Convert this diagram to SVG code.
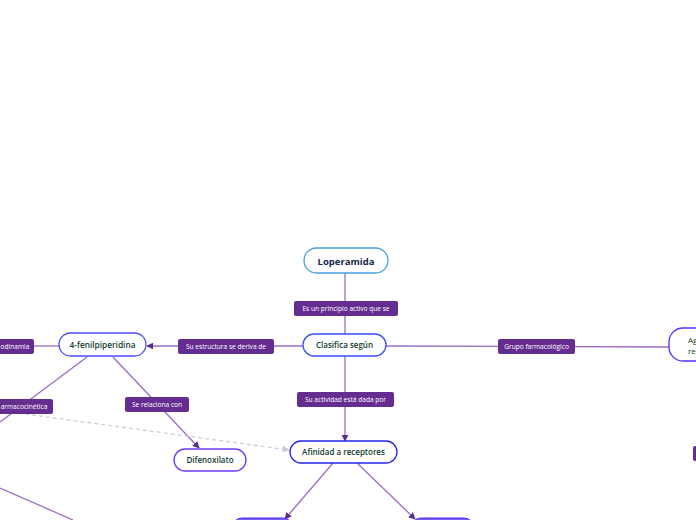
<svg xmlns="http://www.w3.org/2000/svg" width="696" height="520" viewBox="0 0 696 520">
<style>
.node{fill:#fff;stroke-width:1.3}
.nt{font-family:"Open Sans","Noto Sans",sans-serif;font-size:8.5px;fill:#0f3b2c;text-anchor:middle}
.lb{fill:#662d91}
.lt{font-family:"Open Sans","Noto Sans",sans-serif;font-size:6.6px;fill:#fff;text-anchor:middle}
.c{stroke:#9b6cc4;stroke-width:1.3;fill:none}
</style>
<defs>
<marker id="ah" viewBox="0 0 10 10" refX="9" refY="5" markerWidth="7" markerHeight="7" orient="auto" markerUnits="userSpaceOnUse"><path d="M0,0 L10,5 L0,10 z" fill="#5a2a8c"/></marker>
<marker id="ag" viewBox="0 0 10 10" refX="9" refY="5" markerWidth="7" markerHeight="7" orient="auto" markerUnits="userSpaceOnUse"><path d="M0,0 L10,5 L0,10 z" fill="#c5ccd6"/></marker>
</defs>
<g id="connectors">
<line class="c" x1="345" y1="273" x2="345" y2="334"/>
<line class="c" x1="345" y1="356" x2="345" y2="441" marker-end="url(#ah)"/>
<line class="c" x1="303" y1="346" x2="147" y2="346" marker-end="url(#ah)"/>
<line class="c" x1="386" y1="346" x2="669" y2="347"/>
<line class="c" x1="59" y1="346" x2="30" y2="346"/>
<line class="c" x1="87" y1="357" x2="0" y2="422"/>
<line class="c" x1="113" y1="357" x2="199" y2="448" marker-end="url(#ah)"/>
<line class="c" x1="333" y1="463" x2="285" y2="519" marker-end="url(#ah)"/>
<line class="c" x1="357" y1="463" x2="415" y2="519" marker-end="url(#ah)"/>
<line class="c" x1="0" y1="488" x2="73" y2="520"/>
<line x1="18" y1="413" x2="289" y2="450" stroke="#c9d0d9" stroke-width="1.3" stroke-dasharray="4,3" fill="none" marker-end="url(#ag)"/>
</g>
<g id="lbl-principio"><rect class="lb" x="294" y="301" width="104" height="15" rx="2"/><text class="lt" x="346" y="311">Es un principio activo que se</text></g>
<g id="lbl-estructura"><rect class="lb" x="178" y="339" width="96" height="15" rx="2"/><text class="lt" x="226" y="349">Su estructura se deriva de</text></g>
<g id="lbl-grupo"><rect class="lb" x="498" y="339" width="77" height="15" rx="2"/><text class="lt" x="536.5" y="349">Grupo farmacológico</text></g>
<g id="lbl-actividad"><rect class="lb" x="297" y="392" width="97" height="15" rx="2"/><text class="lt" x="345.5" y="402">Su actividad está dada por</text></g>
<g id="lbl-relaciona"><rect class="lb" x="125" y="397" width="64" height="15" rx="2"/><text class="lt" x="157" y="407">Se relaciona con</text></g>
<g id="lbl-farmacodinamia"><rect class="lb" x="-6" y="339" width="40" height="15" rx="2"/><text class="lt" x="15" y="349">odinamia</text></g>
<g id="lbl-farmacocinetica"><rect class="lb" x="-6" y="399" width="59" height="15" rx="2"/><text class="lt" x="24" y="409">armacocinética</text></g>
<g id="lbl-right"><rect class="lb" x="693" y="446" width="10" height="15" rx="2"/></g>
<g id="n-loperamida"><rect class="node" x="304" y="248" width="84" height="25" rx="12.5" stroke="#4a9fdc"/><text class="nt" x="346" y="264.5" style="font-weight:bold;font-size:9.5px;fill:#15274d">Loperamida</text></g>
<g id="n-clasifica"><rect class="node" x="303" y="334" width="83" height="22" rx="11" stroke="#3b4cff"/><text class="nt" x="344.5" y="348" style="font-weight:600;font-size:8px">Clasifica según</text></g>
<g id="n-fenil"><rect class="node" x="59" y="333" width="87" height="23" rx="11.5" stroke="#4b4bff"/><text class="nt" x="102.5" y="347.5" style="font-weight:600;font-size:8.3px">4-fenilpiperidina</text></g>
<g id="n-agonista"><rect class="node" x="669" y="328" width="60" height="33" rx="14" stroke="#5a2cff"/><text class="nt" x="688" y="343" style="text-anchor:start;font-size:8px">Ag</text><text class="nt" x="688" y="354" style="text-anchor:start;font-size:8px">re</text></g>
<g id="n-difenoxilato"><rect class="node" x="174" y="449" width="72" height="22" rx="11" stroke="#6b3cff"/><text class="nt" x="210" y="463" style="font-weight:600;font-size:8px">Difenoxilato</text></g>
<g id="n-afinidad"><rect class="node" x="290" y="441" width="107" height="22" rx="11" stroke="#2626ee"/><text class="nt" x="343.5" y="455" style="font-weight:600;font-size:8px">Afinidad a receptores</text></g>
<g id="n-bottom-left"><rect x="232" y="518" width="61" height="20" rx="10" fill="#7a5cff" stroke="#4a2cf0"/></g>
<g id="n-bottom-right"><rect x="411" y="518" width="63" height="20" rx="10" fill="#7a5cff" stroke="#4a2cf0"/></g>
</svg>
